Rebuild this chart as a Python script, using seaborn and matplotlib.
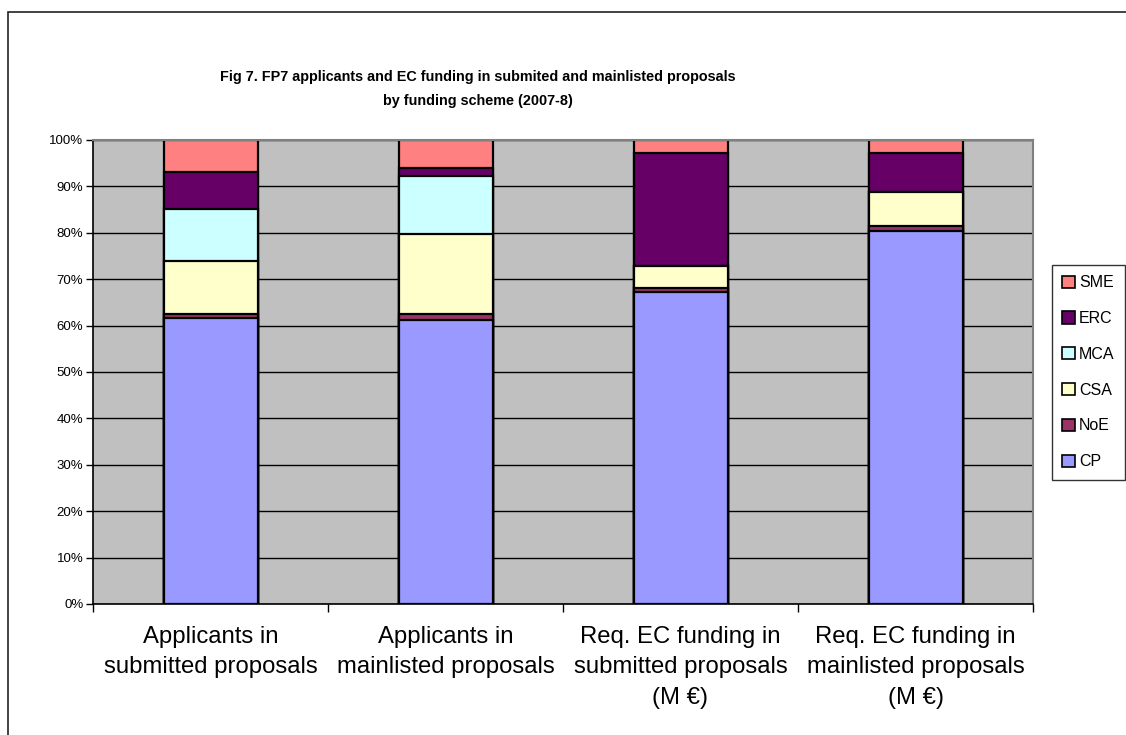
import numpy as np
import pandas as pd
import seaborn as sns
from matplotlib import pyplot as plt
from matplotlib.patches import Patch, Rectangle

# Data (percent of each column)
categories = ['Applicants in\nsubmitted proposals',
              'Applicants in\nmainlisted proposals',
              'Req. EC funding in\nsubmitted proposals\n(M \u20ac)',
              'Req. EC funding in\nmainlisted proposals\n(M \u20ac)']
cp = [61.6, 61.1, 67.2, 80.4]
noe = [0.8, 1.3, 0.9, 1.1]
csa = [11.6, 17.3, 4.7, 7.3]
mca = [11.1, 12.6, 0.0, 0.0]
erc = [7.9, 1.7, 24.4, 8.4]
sme = [7.0, 6.0, 2.8, 2.8]

series = ['CP', 'NoE', 'CSA', 'MCA', 'ERC', 'SME']
colors = {'CP': '#9999FF', 'NoE': '#993366', 'CSA': '#FFFFCC',
          'MCA': '#CCFFFF', 'ERC': '#660066', 'SME': '#FF8080'}

df = pd.DataFrame({'CP': cp, 'NoE': noe, 'CSA': csa, 'MCA': mca,
                   'ERC': erc, 'SME': sme}, index=categories)
df = df.div(df.sum(axis=1), axis=0) * 100
cum = df.cumsum(axis=1)

sns.set_style('white')
plt.rcParams['font.family'] = ['Liberation Sans', 'DejaVu Sans']
plt.rcParams['text.color'] = 'black'
plt.rcParams['xtick.color'] = 'black'
plt.rcParams['ytick.color'] = 'black'
plt.rcParams['xtick.labelcolor'] = 'black'
plt.rcParams['ytick.labelcolor'] = 'black'

fig = plt.figure(figsize=(11.26, 7.35), dpi=100)
ax = fig.add_axes([93/1126, 131/735, 940/1126, 464/735])
ax.set_facecolor('#C0C0C0')

# draw stacked bars top-down so each lower layer overlays the upper ones
for s in reversed(series):
    tmp = pd.DataFrame({'cat': categories, 'val': cum[s].values})
    sns.barplot(data=tmp, x='cat', y='val', order=categories, color=colors[s],
                saturation=1, width=0.4, edgecolor='black', linewidth=1.6, ax=ax)

ax.set_ylim(0, 100)
ax.set_xlim(-0.5, 3.5)
ax.set_yticks(np.arange(0, 101, 10))
ax.set_yticklabels([f'{v}%' for v in range(0, 101, 10)], fontsize=9.5)
ax.yaxis.grid(True, color='black', linewidth=1)
ax.set_axisbelow(True)
ax.tick_params(axis='y', left=True, length=5, width=1, color='black', pad=2)

ax.set_xticks(range(4))
ax.set_xticklabels(categories, fontsize=17.2, linespacing=1.48)
ax.tick_params(axis='x', which='major', length=0, pad=16)
ax.set_xticks(np.arange(-0.5, 4, 1), minor=True)
ax.tick_params(axis='x', which='minor', bottom=True, length=6, width=1, color='black')
ax.set_xlabel('')
ax.set_ylabel('')

for side in ['left', 'bottom']:
    ax.spines[side].set_color('black')
    ax.spines[side].set_linewidth(1.2)
for side in ['top', 'right']:
    ax.spines[side].set_color('#808080')
    ax.spines[side].set_linewidth(1.5)

handles = [Patch(facecolor=colors[s], edgecolor='black', linewidth=1.2, label=s)
           for s in reversed(series)]
leg = fig.legend(handles=handles, loc='upper left',
                 bbox_to_anchor=(1052/1126, 1 - 265/735), fontsize=11.5,
                 frameon=True, fancybox=False, edgecolor='black',
                 handlelength=0.8, handleheight=0.8, handletextpad=0.25,
                 labelspacing=1.3, borderpad=0.65, borderaxespad=0)
leg.get_frame().set_linewidth(1)

fig.text(478/1126, 1 - 89/735,
         'Fig 7. FP7 applicants and EC funding in submited and mainlisted proposals\nby funding scheme (2007-8)',
         ha='center', va='center', fontsize=10.4, fontweight='bold', linespacing=1.85)

# outer chart border (partly cropped in the original)
fig.patches.append(Rectangle((8/1126, -0.1), 1.2, 1 - 12/735 + 0.1,
                             transform=fig.transFigure, fill=False,
                             edgecolor='#222222', linewidth=1.2))

fig.savefig('out.png', dpi=100)
